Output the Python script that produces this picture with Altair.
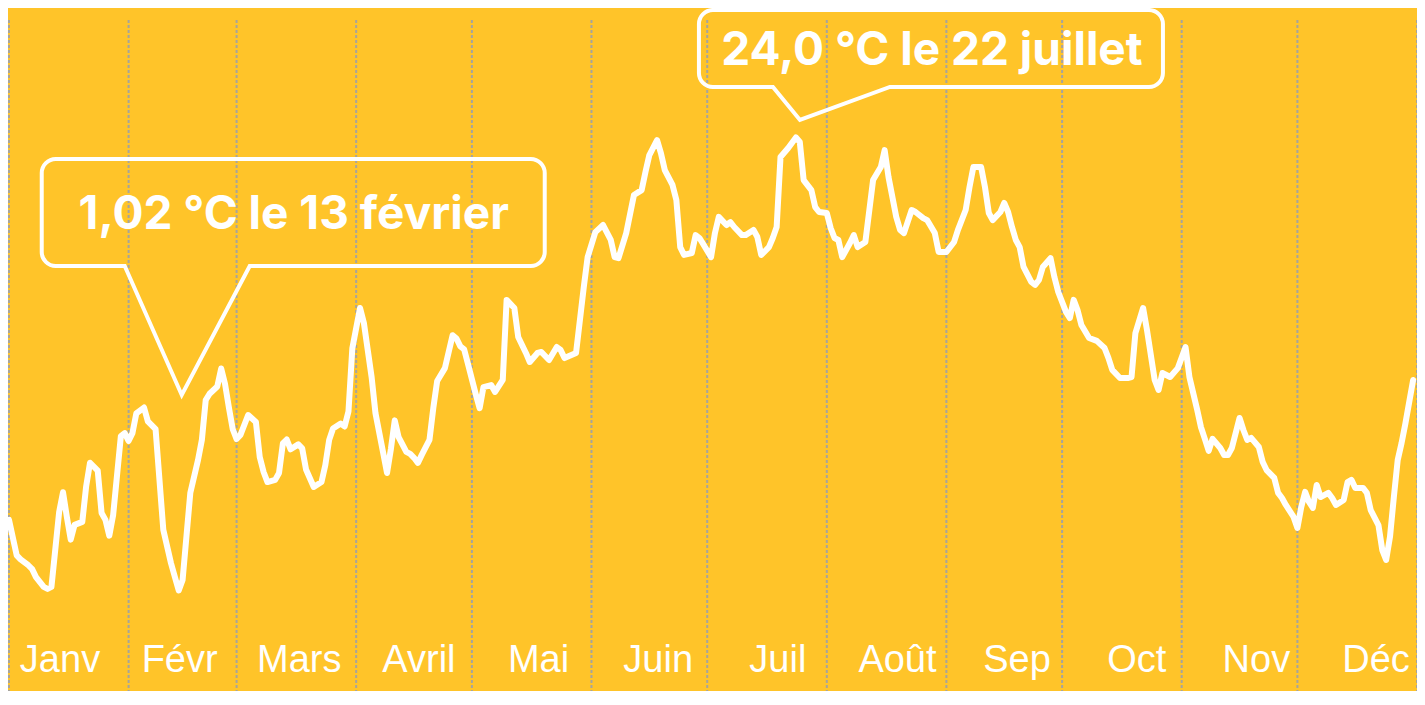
import altair as alt
import pandas as pd

# Jour de l'année (0 = 1er janvier) et température moyenne
jours = [0, 2, 3, 5, 6, 7, 9, 10, 11, 13, 14, 15, 16, 17, 19, 20, 21, 23, 24, 25, 26, 27, 29, 30, 31, 32, 33, 35, 36, 38,
         40, 42, 43, 44, 45, 47, 49, 50, 51, 52, 54, 55, 56, 57, 58, 59, 60, 62, 64, 65, 66, 67, 69, 70, 71, 72, 73, 75, 76, 77,
         79, 81, 82, 83, 84, 86, 87, 88, 89, 91, 92, 94, 95, 97, 98, 99, 100, 101, 103, 104, 105, 106, 107, 109, 110, 111, 113, 115, 116, 117,
         118, 119, 121, 122, 123, 125, 126, 128, 129, 131, 132, 134, 135, 137, 138, 140, 142, 143, 144, 147, 149, 150, 152, 154, 156, 157, 158, 160, 162, 164,
         165, 166, 168, 169, 170, 172, 173, 174, 175, 177, 178, 179, 182, 183, 184, 186, 187, 188, 190, 191, 193, 194, 195, 197, 198, 199, 200, 202, 204, 205,
         206, 208, 209, 210, 212, 213, 214, 215, 216, 218, 219, 220, 222, 224, 226, 227, 228, 230, 231, 232, 234, 235, 237, 238, 240, 241, 243, 245, 246, 248,
         249, 250, 252, 253, 254, 255, 257, 258, 259, 260, 261, 262, 263, 265, 266, 267, 268, 270, 271, 272, 274, 275, 276, 277, 278, 280, 282, 284, 285, 286,
         288, 290, 291, 292, 294, 295, 297, 298, 299, 301, 303, 305, 306, 308, 309, 310, 311, 312, 314, 315, 316, 317, 319, 320, 321, 322, 324, 325, 326, 328,
         329, 330, 331, 333, 334, 335, 336, 337, 338, 339, 340, 342, 343, 344, 346, 347, 348, 349, 351, 352, 353, 355, 356, 357, 358, 359, 360, 361, 362, 363,
         364]
temperatures = [4.6, 2.8, 2.6, 2.3, 2.1, 1.7, 1.2, 1.1, 1.2, 5.0, 6.0, 4.75, 3.6, 4.35, 4.5, 6.3, 7.5, 7.1, 4.95, 4.6, 3.8, 4.85, 8.85, 9.0, 8.6, 9.0, 10.0, 10.3, 9.6, 9.2,
                4.1, 2.4, 1.7, 1.02, 1.55, 5.97, 7.64, 8.66, 10.68, 11.0, 11.37, 12.28, 11.5, 10.3, 9.2, 8.7, 8.91, 9.92, 9.57, 7.79, 7.03, 6.52, 6.63, 6.98, 8.48, 8.68, 8.18, 8.43, 8.23, 7.16,
                6.27, 6.52, 7.38, 8.66, 9.24, 9.49, 9.34, 10.1, 13.3, 15.35, 14.59, 11.85, 10.02, 8.0, 6.98, 8.2, 9.65, 8.8, 8.05, 7.95, 7.75, 7.49, 7.9, 8.66, 10.28, 11.65, 12.3, 13.97, 13.8, 13.4,
                13.25, 12.49, 10.97, 10.27, 11.34, 11.44, 11.09, 11.7, 15.76, 15.35, 13.88, 13.07, 12.61, 13.07, 13.12, 12.71, 13.37, 13.22, 12.81, 13.07, 16.41, 17.93, 19.2, 19.56, 18.8, 17.93, 17.88, 19.15, 21.08, 21.33,
                22.25, 23.11, 23.87, 23.21, 22.35, 21.59, 20.83, 18.44, 18.04, 18.14, 19.05, 18.9, 17.93, 19.15, 19.97, 19.56, 19.71, 19.46, 19.05, 19.05, 19.31, 18.95, 18.04, 18.44, 18.9, 19.46, 23.01, 23.47, 24.0, 23.77,
                21.84, 21.33, 20.47, 20.22, 20.17, 19.41, 18.9, 18.8, 17.93, 18.65, 19.05, 18.44, 18.7, 21.84, 22.5, 23.36, 21.99, 19.97, 19.31, 19.15, 20.32, 20.22, 19.91, 19.81, 19.15, 18.19, 18.19, 18.7, 19.31, 20.32,
                21.49, 22.5, 22.5, 21.49, 20.17, 19.81, 20.22, 20.68, 20.22, 19.46, 18.8, 18.44, 17.43, 16.67, 16.52, 16.77, 17.43, 17.88, 16.92, 16.16, 15.15, 14.84, 15.76, 15.25, 14.49, 13.83, 13.68, 13.32, 12.82, 12.21,
                11.8, 11.8, 11.85, 14.08, 15.35, 14.23, 11.7, 11.19, 12.05, 11.85, 12.3, 13.37, 11.85, 10.2, 9.3, 8.71, 8.1, 8.71, 8.25, 7.89, 7.89, 8.25, 9.77, 9.16, 8.66, 8.76, 8.3, 7.54, 7.13, 6.73,
                5.97, 5.71, 5.36, 4.75, 4.19, 5.26, 6.02, 5.51, 5.21, 6.37, 5.76, 5.97, 5.71, 5.36, 5.61, 6.52, 6.63, 6.22, 6.22, 5.97, 5.1, 4.34, 3.07, 2.57, 3.74, 5.76, 7.64, 8.5, 9.5, 10.6,
                11.7]

mois = ["Janv", "Févr", "Mars", "Avril", "Mai", "Juin", "Juil", "Août", "Sep", "Oct", "Nov", "Déc"]
debuts_mois = [0, 31, 59, 90, 120, 151, 181, 212, 243, 273, 304, 334, 365]
annotations = ["1,02 °C le 13 février", "24,0 °C le 22 juillet"]

JAUNE = "#FFC429"
W, H = 1408, 671

df = pd.DataFrame({"jour": jours, "temp": temperatures})
grille = pd.DataFrame({"jour": debuts_mois})
etiquettes = pd.DataFrame({"mois": mois})
ann_min = df.loc[[df["temp"].idxmin()]].assign(label=annotations[0])
ann_max = df.loc[[df["temp"].idxmax()]].assign(label=annotations[1])

xs = alt.Scale(domain=[0, 365], nice=False, zero=False)
ys = alt.Scale(domain=[-4.08, 29.96], nice=False, zero=False)
X = alt.X("jour:Q", scale=xs, axis=None)
Y = alt.Y("temp:Q", scale=ys, axis=None)

grid = alt.Chart(grille).mark_rule(color="#A7A49C", strokeWidth=2, strokeDash=[3, 2]).encode(
    x=X, y=alt.value(0), y2=alt.value(H)
)

ligne = alt.Chart(df).mark_line(color="white", strokeWidth=6, strokeJoin="round", strokeCap="round").encode(
    x=X, y=Y
)

labels = alt.Chart(etiquettes).mark_text(
    font="Liberation Sans", fontSize=38, color="white", baseline="middle", align="center"
).encode(
    x=alt.X("mois:N", sort=mois,
            scale=alt.Scale(type="point", domain=mois, range=[51, 1367], padding=0), axis=None),
    y=alt.value(641),
    text="mois:N",
)

bulle_min_path = ("M -54 -324.5 L 3 -195.5 L 71 -324.5 L 352 -324.5 A 14 14 0 0 0 366 -338.5 "
                  "L 366 -417.5 A 14 14 0 0 0 352 -431.5 L -123 -431.5 A 14 14 0 0 0 -137 -417.5 "
                  "L -137 -338.5 A 14 14 0 0 0 -123 -324.5 Z")
bulle_max_path = ("M -23 -50.5 L 4 -17.5 L 94 -50.5 L 353 -50.5 A 14 14 0 0 0 367 -64.5 "
                  "L 367 -113.5 A 14 14 0 0 0 353 -127.5 L -83 -127.5 A 14 14 0 0 0 -97 -113.5 "
                  "L -97 -64.5 A 14 14 0 0 0 -83 -50.5 Z")

def bulle(data, path):
    return alt.Chart(data).mark_point(
        shape=path, size=4, filled=False, stroke="white", strokeWidth=4, opacity=1
    ).encode(x=X, y=Y)

def texte(data, dx, dy):
    return alt.Chart(data).mark_text(
        font="Inter", fontSize=46, fontWeight="bold", color="white",
        align="center", baseline="middle", dx=dx, dy=dy
    ).encode(x=X, y=Y, text="label:N")

chart = alt.layer(
    grid, ligne, labels,
    bulle(ann_min, bulle_min_path), texte(ann_min, 115, -375),
    bulle(ann_max, bulle_max_path), texte(ann_max, 136, -86),
).properties(
    width=W, height=H,
    padding={"left": 1, "top": 12, "right": 0, "bottom": 0},
    autosize=alt.AutoSizeParams(type="none"),
    background=JAUNE,
).configure_view(stroke=None)

chart.save("out.html", embed_options={"renderer": "svg", "actions": False})
